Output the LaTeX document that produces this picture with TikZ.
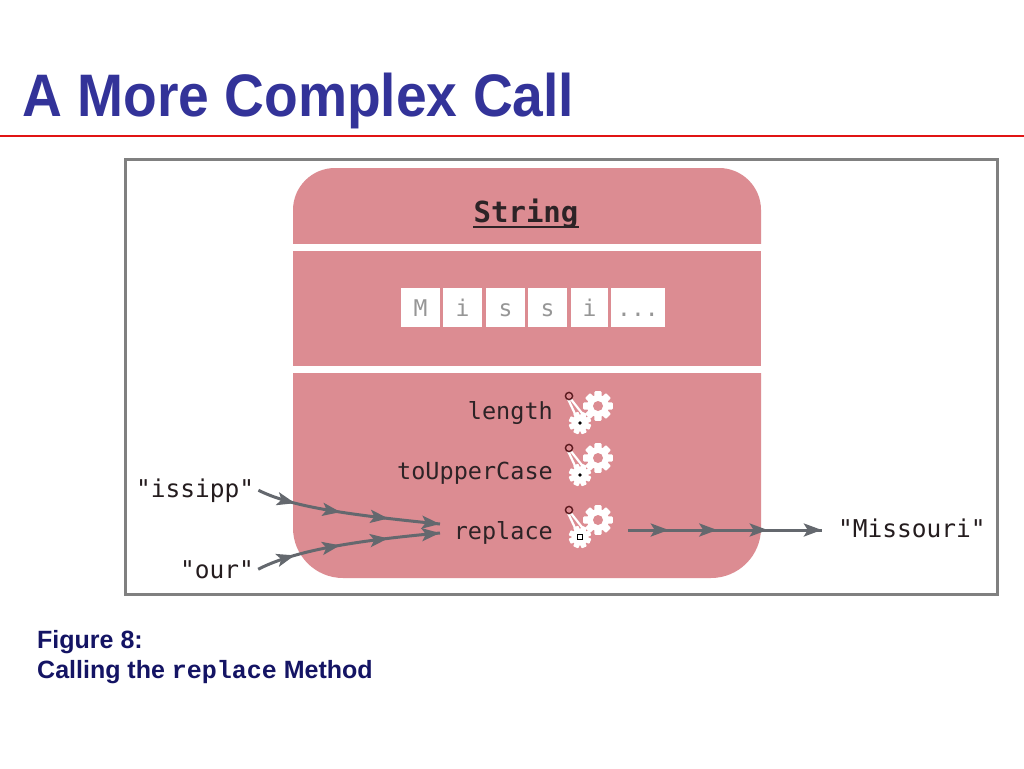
\documentclass[tikz,border=0pt]{standalone}
\usepackage{fontspec}
\setmainfont{Liberation Sans}
\newfontfamily\dvmono{DejaVu Sans Mono}
\newfontfamily\lmono{Liberation Mono}
\usetikzlibrary{arrows.meta,decorations.markings}
\definecolor{titleblue}{RGB}{51,51,153}
\definecolor{capnavy}{RGB}{20,20,100}
\definecolor{redline}{RGB}{225,20,20}
\definecolor{framegray}{RGB}{128,128,128}
\definecolor{pinkc}{RGB}{220,140,146}
\definecolor{arrgray}{RGB}{100,104,110}
\definecolor{methtext}{RGB}{45,35,38}
\definecolor{celltext}{RGB}{150,150,150}
\definecolor{leverred}{RGB}{90,25,30}
\newcommand\gearbody{%
  \draw[white, line width=2.2pt, line cap=round] (-30,-7) -- (-22,10) (-28,-8) -- (-13,11);
  \draw[leverred, line width=1.4pt, fill=pinkc] (-29,-10) circle (3.6);
  \foreach \a in {0,45,...,315} {\fill[white, rotate=\a, rounded corners=1pt] (-3.6,0) rectangle (3.6,14.8);}
  \fill[white] (0,0) circle (11);
  \fill[pinkc] (0,0) circle (5);
  \begin{scope}[shift={(-18,17)}]
    \foreach \a in {22.5,67.5,...,337.5} {\fill[white, rotate=\a, rounded corners=0.8pt] (-2.8,0) rectangle (2.8,11.2);}
    \fill[white] (0,0) circle (8.5);
  \end{scope}}
\tikzset{
  tipA/.tip={Stealth[length=18pt,width=13pt,inset=4pt]},
  flow/.style={draw=arrgray, line width=3pt, postaction={decorate},
    decoration={markings,
      mark=at position 0.21 with {\arrow{tipA}},
      mark=at position 0.46 with {\arrow{tipA}},
      mark=at position 0.72 with {\arrow{tipA}},
      mark=at position 0.999 with {\arrow{tipA}}}},
  meth/.style={font=\dvmono\fontsize{23.5}{26}\selectfont, text=methtext, inner sep=0pt},
  lbl/.style={font=\dvmono\fontsize{24.5}{26}\selectfont, text=methtext!80!black, inner sep=0pt},
  cellbox/.style={fill=white, minimum height=39pt, text height=17pt, text depth=0pt, inner sep=0pt,
    font=\dvmono\fontsize{23}{25}\selectfont, text=celltext},
  gearpic/.pic={\gearbody \fill[black] (-18,17) circle (1.8);},
  gearsq/.pic={\gearbody \draw[black, line width=0.9pt, fill=white] (-20.2,14.8) rectangle (-15.8,19.2);},
  captxt/.style={anchor=base west, inner sep=0pt, font=\fontsize{25}{28}\selectfont\bfseries, text=capnavy}
}
\begin{document}
\begin{tikzpicture}[x=1pt,y=-1pt]
\useasboundingbox (0,0) rectangle (1024,768);
\fill[white] (0,0) rectangle (1024,768);
% title
\node[anchor=base west, inner sep=0pt, font=\fontsize{60}{64}\selectfont\bfseries, text=titleblue, xscale=0.92] (title) at (22,116) {A More Complex Call};
\draw[redline, line width=2pt] (0,136) -- (1024,136);
% frame
\draw[framegray, line width=3pt] (125,159) rectangle (997,594);
% pink object
\begin{scope}
  \clip (0,168) rectangle (1024,243);
  \fill[pinkc, rounded corners=42pt] (293,168) rectangle (761,320);
\end{scope}
\fill[pinkc] (293,251) rectangle (761,366);
\begin{scope}
  \clip (0,373) rectangle (1024,578);
  \fill[pinkc, rounded corners=50pt] (293,300) rectangle (761,578);
\end{scope}
% class name
\node[font=\dvmono\bfseries\fontsize{29}{31}\selectfont, text=methtext, anchor=base, inner sep=0pt] (strname) at (526,222) {String};
\draw[methtext, line width=2pt] ([yshift=-5pt]strname.base west) -- ([yshift=-5pt]strname.base east);
% cells
\node[cellbox, minimum width=39pt] (c1) at (420.5,307.5) {M};
\node[cellbox, minimum width=39pt] (c2) at (462.5,307.5) {i};
\node[cellbox, minimum width=39pt] (c3) at (505.5,307.5) {s};
\node[cellbox, minimum width=39pt] (c4) at (547.5,307.5) {s};
\node[cellbox, minimum width=37pt] (c5) at (589.5,307.5) {i};
\node[cellbox, minimum width=54pt] (c6) at (638,307.5) {...};
% methods
\node[meth, anchor=base east] (mlen) at (553,419) {length};
\node[meth, anchor=base east] (mtup) at (553,479) {toUpperCase};
\node[meth, anchor=base east] (mrep) at (553,539) {replace};
\pic (g1) at (598,406) {gearpic};
\pic (g2) at (598,458) {gearpic};
\pic (g3) at (598,520) {gearsq};
% labels
\node[lbl, anchor=base west] (issipp) at (136,497) {"issipp"};
\node[lbl, anchor=base west] (our) at (180,578) {"our"};
\node[lbl, anchor=base west] (missouri) at (838,537) {"Missouri"};
% connectors
\coordinate (in1) at (440,524);
\coordinate (in2) at (440,533);
\coordinate (out0) at (628,530);
\coordinate (outend) at (822,530);
\draw[flow] ([xshift=4pt]issipp.east) .. controls (290,506) and (340,514) .. (in1);
\draw[flow] ([xshift=4pt]our.east) .. controls (290,553) and (340,542) .. (in2);
\draw[flow] (out0) -- (outend);
% caption
\node[captxt] (fig) at (37,648) {Figure 8:};
\node[captxt] (cap) at (37,678) {Calling the {\lmono\bfseries replace} Method};
\end{tikzpicture}
\end{document}
